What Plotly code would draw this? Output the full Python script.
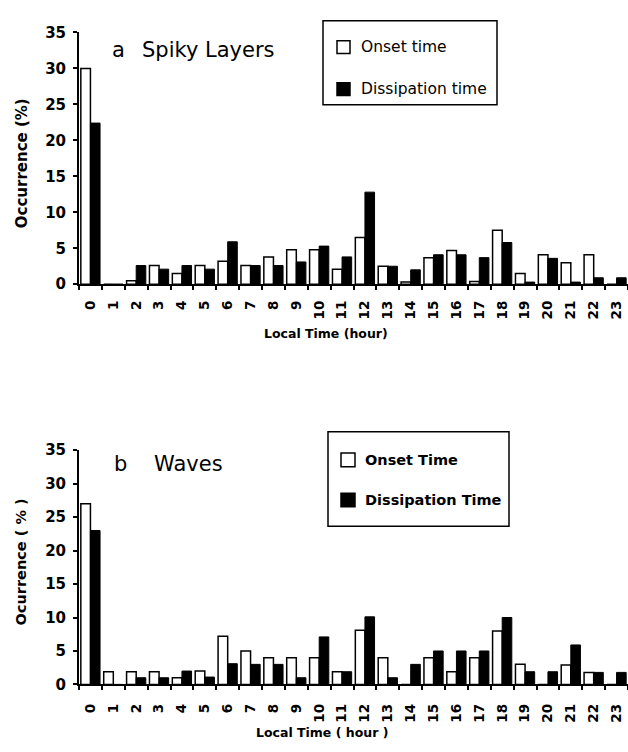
import plotly.graph_objects as go

# ---------------- data ----------------
hours = [str(h) for h in range(24)]

spiky_onset = [30.0, 0.0, 0.5, 2.6, 1.5, 2.6, 3.2, 2.6, 3.8, 4.8, 4.8, 2.1,
               6.5, 2.5, 0.3, 3.7, 4.7, 0.4, 7.5, 1.5, 4.1, 3.0, 4.1, 0.0]
spiky_dissip = [22.4, 0.0, 2.6, 2.1, 2.6, 2.1, 5.9, 2.6, 2.6, 3.1, 5.3, 3.8,
                12.8, 2.5, 2.0, 4.1, 4.1, 3.7, 5.8, 0.3, 3.6, 0.3, 0.9, 0.9]

wave_onset = [27.0, 1.9, 1.9, 1.9, 1.0, 2.0, 7.2, 5.0, 4.0, 4.0, 4.0, 1.9,
              8.1, 4.0, 0.0, 4.0, 1.9, 4.0, 8.0, 3.0, 0.0, 2.9, 1.8, 0.0]
wave_dissip = [23.0, 0.0, 1.0, 1.0, 2.0, 1.1, 3.1, 3.0, 3.0, 1.0, 7.1, 1.9,
               10.1, 1.0, 3.0, 5.0, 5.0, 5.0, 10.0, 1.9, 1.9, 5.9, 1.8, 1.8]

y_ticks = [0, 5, 10, 15, 20, 25, 30, 35]

legend_a = ["Onset time", "Dissipation time"]
legend_b = ["Onset Time", "Dissipation Time"]

# ---------------- geometry helpers ----------------
W, H = 628, 752
L = 79
PW = W - L


def px(x):
    return (x - L) / PW


def py(y):
    return 1 - y / H


FONT = "DejaVu Sans"

fig = go.Figure()

fig.add_trace(go.Bar(x=hours, y=spiky_onset, name=legend_a[0], xaxis="x", yaxis="y",
                     marker=dict(color="white", line=dict(color="black", width=1.5)),
                     showlegend=False))
fig.add_trace(go.Bar(x=hours, y=spiky_dissip, name=legend_a[1], xaxis="x", yaxis="y",
                     marker=dict(color="black", line=dict(color="black", width=1)),
                     showlegend=False))
fig.add_trace(go.Bar(x=hours, y=wave_onset, name=legend_b[0], xaxis="x2", yaxis="y2",
                     marker=dict(color="white", line=dict(color="black", width=1.5)),
                     showlegend=False))
fig.add_trace(go.Bar(x=hours, y=wave_dissip, name=legend_b[1], xaxis="x2", yaxis="y2",
                     marker=dict(color="black", line=dict(color="black", width=1)),
                     showlegend=False))

xcommon = dict(type="category", categoryorder="array", categoryarray=hours,
               range=[-0.5, 23.5], showline=True, linecolor="black", linewidth=2,
               ticks="outside", ticklen=4, tickwidth=2, tickcolor="black",
               tickson="boundaries", tickangle=-90, showgrid=False, zeroline=False)
ycommon = dict(range=[0, 35], tickvals=y_ticks, showline=True, linecolor="black",
               linewidth=2, ticks="outside", ticklen=4, tickwidth=2, tickcolor="black",
               showgrid=False, zeroline=False,
               tickfont=dict(family=FONT, size=15, color="black", weight="bold"),
               ticklabelstandoff=4)

fig.update_layout(
    width=W, height=H,
    margin=dict(l=L, r=0, t=0, b=0),
    paper_bgcolor="white", plot_bgcolor="white",
    barmode="group", bargap=0.16, bargroupgap=0.0,
    xaxis=dict(xcommon, domain=[0, 1], anchor="y", ticklabelstandoff=9,
               tickfont=dict(family=FONT, size=13.5, color="black", weight="bold")),
    yaxis=dict(ycommon, domain=[py(282), py(24)], anchor="x"),
    xaxis2=dict(xcommon, domain=[0, 1], anchor="y2", ticklabelstandoff=12,
                tickfont=dict(family=FONT, size=13.5, color="black", weight="bold")),
    yaxis2=dict(ycommon, domain=[py(692), py(452)], anchor="x2"),
    showlegend=False,
)

ann = []
shapes = []

# panel titles
ann.append(dict(text="a", x=px(110), y=py(42), xanchor="left", yanchor="middle"))
ann.append(dict(text="Spiky Layers", x=px(140), y=py(42), xanchor="left", yanchor="middle"))
ann.append(dict(text="b", x=px(112), y=py(466), xanchor="left", yanchor="middle"))
ann.append(dict(text="Waves", x=px(152), y=py(466), xanchor="left", yanchor="middle"))
for a in ann:
    a.update(xref="paper", yref="paper", showarrow=False,
             font=dict(family=FONT, size=21, color="black"))

# axis titles
ann.append(dict(text="Local Time (hour)", x=px(326), y=py(332), xref="paper", yref="paper",
                showarrow=False, xanchor="center", yanchor="middle",
                font=dict(family=FONT, size=12.5, color="black", weight="bold")))
ann.append(dict(text="Local Time ( hour )", x=px(322), y=py(741), xref="paper", yref="paper",
                showarrow=False, xanchor="center", yanchor="middle",
                font=dict(family=FONT, size=12.5, color="black", weight="bold")))
ann.append(dict(text="Occurrence (%)", x=px(22), y=py(158), xref="paper", yref="paper",
                showarrow=False, xanchor="center", yanchor="middle", textangle=-90,
                font=dict(family=FONT, size=15, color="black", weight="bold")))
ann.append(dict(text="Ocurrence ( % )", x=px(21), y=py(567), xref="paper", yref="paper",
                showarrow=False, xanchor="center", yanchor="middle", textangle=-90,
                font=dict(family=FONT, size=14.5, color="black", weight="bold")))


def legend_box(x0, y0, x1, y1, sq_x0, sq_size, text_x, ys, labels, bold):
    shapes.append(dict(type="rect", xref="paper", yref="paper",
                       x0=px(x0), x1=px(x1), y0=py(y1), y1=py(y0),
                       line=dict(color="black", width=1.5), fillcolor="white", layer="above"))
    fills = ["white", "black"]
    for yc, lab, fc in zip(ys, labels, fills):
        shapes.append(dict(type="rect", xref="paper", yref="paper",
                           x0=px(sq_x0), x1=px(sq_x0 + sq_size),
                           y0=py(yc + sq_size / 2), y1=py(yc - sq_size / 2),
                           line=dict(color="black", width=1.5), fillcolor=fc, layer="above"))
        f = dict(family=FONT, size=15.5, color="black")
        if bold:
            f["weight"] = "bold"
            f["size"] = 14.5
        ann.append(dict(text=lab, x=px(text_x), y=py(yc), xref="paper", yref="paper",
                        showarrow=False, xanchor="left", yanchor="middle", font=f))


legend_box(323, 12, 497, 98, 337, 13, 359, [39, 82], legend_a, False)
legend_box(328, 433, 509, 530, 341, 14, 363, [462, 503], legend_b, True)

fig.update_layout(annotations=ann, shapes=shapes)

fig.write_html("out.html")
